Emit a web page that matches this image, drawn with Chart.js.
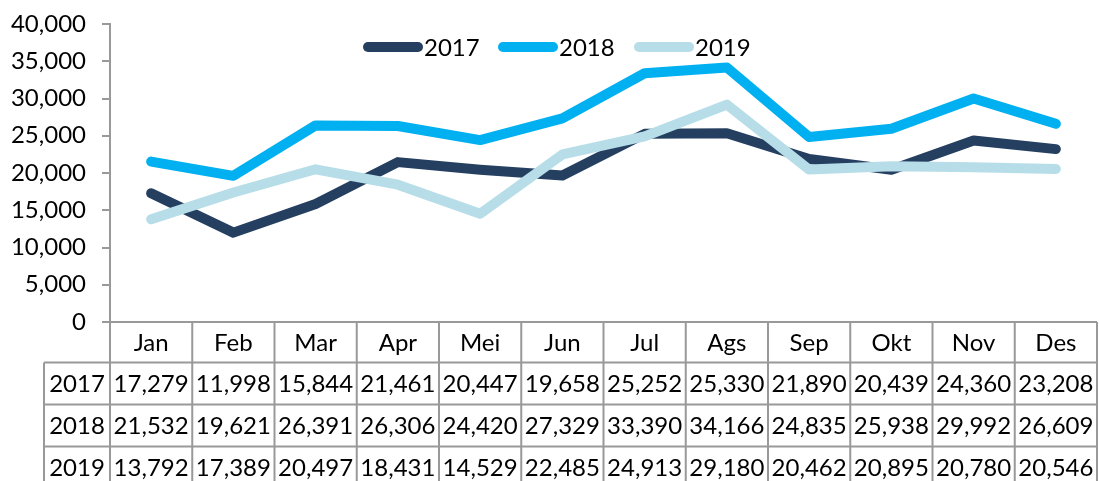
<!DOCTYPE html>
<html>
<head>
<meta charset="utf-8">
<script src="https://cdn.jsdelivr.net/npm/chart.js@4.4.1/dist/chart.umd.min.js"></script>
<style>
  body { margin: 0; background: #fff; }
  canvas { display: block; }
</style>
</head>
<body>
<canvas id="salesChart" width="1099" height="481"></canvas>
<script>
const months = ['Jan', 'Feb', 'Mar', 'Apr', 'Mei', 'Jun', 'Jul', 'Ags', 'Sep', 'Okt', 'Nov', 'Des'];
const years = ['2017', '2018', '2019'];
const values2017 = [17279, 11998, 15844, 21461, 20447, 19658, 25252, 25330, 21890, 20439, 24360, 23208];
const values2018 = [21532, 19621, 26391, 26306, 24420, 27329, 33390, 34166, 24835, 25938, 29992, 26609];
const values2019 = [13792, 17389, 20497, 18431, 14529, 22485, 24913, 29180, 20462, 20895, 20780, 20546];
const lineColors = ['#253F60', '#00B0F0', '#B7DEE8'];

const fontName = 'Lato, "Liberation Sans", sans-serif';
const fontSize = 24;
const gridGray = '#999999';

function fmt(v) {
    return v.toLocaleString('en-US');
}

// tabel data di bawah grafik + legenda
const tablePlugin = {
    id: 'dataTable',
    afterDraw(chart) {
        const ctx = chart.ctx;
        const x = chart.scales.x;
        const area = chart.chartArea;
        const step = (x.right - x.left) / months.length;
        const headerH = 40.5;
        const rowH = 42;
        const stubLeft = 44;
        const top = area.bottom;
        const rows = [values2017, values2018, values2019];

        ctx.save();
        ctx.strokeStyle = gridGray;
        ctx.lineWidth = 2;

        // garis horizontal
        ctx.beginPath();
        ctx.moveTo(x.left, top);
        ctx.lineTo(x.right, top);
        for (let r = 0; r <= rows.length; r++) {
            const y = top + headerH + r * rowH;
            ctx.moveTo(stubLeft, y);
            ctx.lineTo(x.right, y);
        }
        // garis vertikal
        const bottom = top + headerH + rows.length * rowH;
        for (let i = 0; i <= months.length; i++) {
            const xx = x.left + i * step;
            ctx.moveTo(xx, top);
            ctx.lineTo(xx, bottom);
        }
        ctx.moveTo(stubLeft, top + headerH);
        ctx.lineTo(stubLeft, bottom);
        ctx.stroke();

        ctx.fillStyle = '#000';
        ctx.font = fontSize + 'px ' + fontName;
        ctx.textAlign = 'center';
        ctx.textBaseline = 'middle';
        months.forEach((m, i) => {
            ctx.fillText(m, x.getPixelForValue(i), top + headerH / 2 + 1);
        });
        rows.forEach((row, r) => {
            const cy = top + headerH + r * rowH + rowH / 2 + 1;
            ctx.fillText(years[r], (stubLeft + x.left) / 2, cy);
            row.forEach((v, i) => {
                ctx.fillText(fmt(v), x.getPixelForValue(i), cy);
            });
        });

        // legenda
        const legendX = [363, 498, 634];
        const legendY = 47;
        ctx.lineCap = 'round';
        ctx.lineWidth = 10;
        ctx.textAlign = 'left';
        chart.data.datasets.forEach((ds, i) => {
            ctx.strokeStyle = ds.borderColor;
            ctx.beginPath();
            ctx.moveTo(legendX[i] + 5, legendY);
            ctx.lineTo(legendX[i] + 55, legendY);
            ctx.stroke();
            ctx.fillStyle = '#000';
            ctx.fillText(ds.label, legendX[i] + 61, legendY + 1);
        });
        ctx.restore();
    }
};

const seriesData = [values2017, values2018, values2019];
const datasets = years.map((y, i) => ({
    label: y,
    data: seriesData[i],
    borderColor: lineColors[i],
    backgroundColor: lineColors[i],
    borderWidth: 10,
    borderCapStyle: 'round',
    borderJoinStyle: 'round',
    pointRadius: 0,
    tension: 0,
    order: 3 - i
}));

new Chart(document.getElementById('salesChart'), {
    type: 'line',
    data: {
        labels: months,
        datasets: datasets
    },
    options: {
        responsive: false,
        animation: false,
        layout: {
            padding: { top: 24, right: 2, left: 0, bottom: 0 }
        },
        plugins: {
            legend: { display: false },
            tooltip: { enabled: false }
        },
        scales: {
            x: {
                offset: true,
                grid: { display: false },
                border: { display: false },
                ticks: { display: false },
                afterFit(scale) {
                    scale.height = 159;
                }
            },
            y: {
                min: 0,
                max: 40000,
                ticks: {
                    stepSize: 5000,
                    padding: 16,
                    color: '#000',
                    font: { family: fontName, size: fontSize },
                    callback: (v) => fmt(v)
                },
                grid: {
                    drawOnChartArea: false,
                    drawTicks: true,
                    tickLength: 8,
                    color: gridGray,
                    lineWidth: 2
                },
                border: { display: true, color: gridGray, width: 2 },
                afterFit(scale) {
                    scale.width = 110;
                    scale.paddingTop = 0;
                    scale.paddingBottom = 0;
                }
            }
        }
    },
    plugins: [tablePlugin]
});
</script>
</body>
</html>
